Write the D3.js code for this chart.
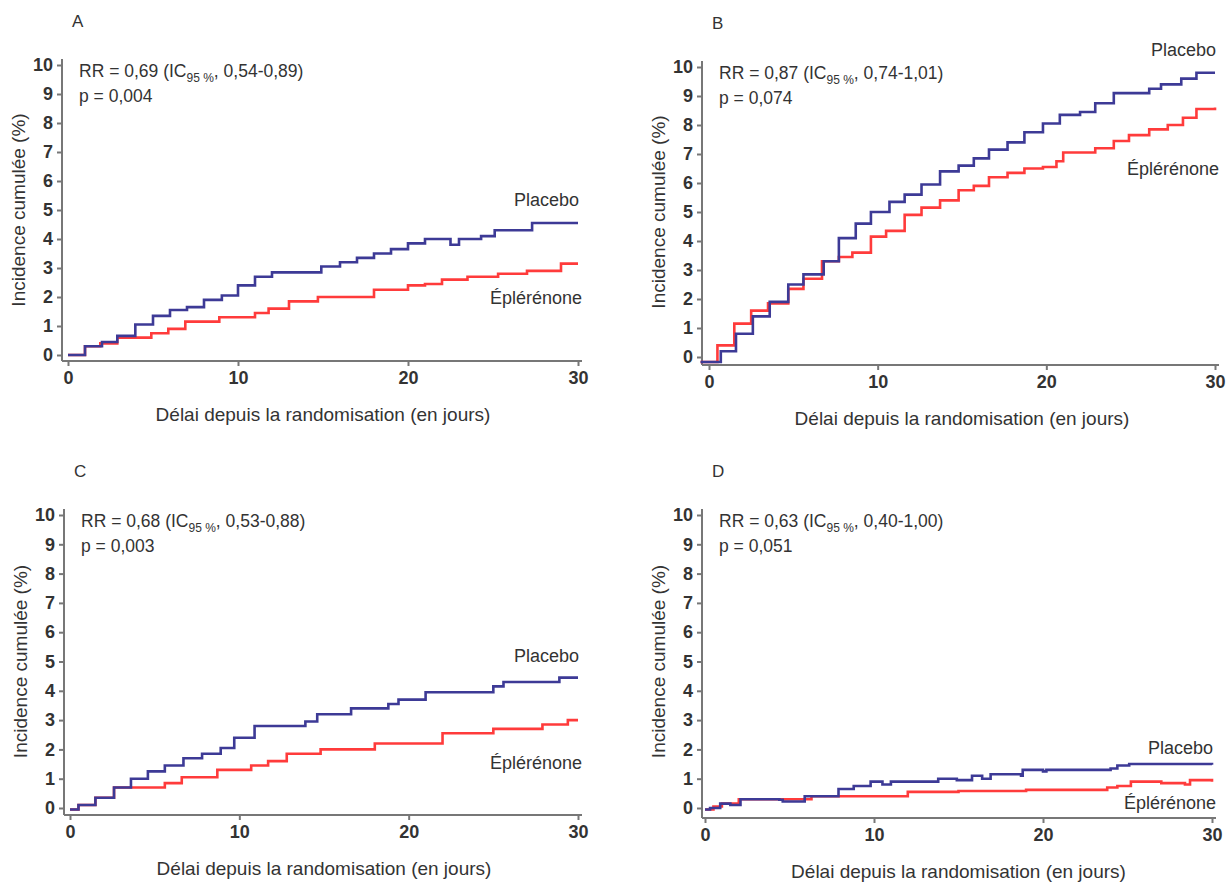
<!DOCTYPE html>
<meta charset="utf-8">
<script src="https://d3js.org/d3.v7.min.js"></script>
<style>
  body { margin: 0; background: #fff; }
  text { font-family: "Liberation Sans Narrow", "Arial Narrow", "Liberation Sans", Arial, sans-serif; fill: #333; }
</style>
<div id="my_dataviz"></div>
<script>
// step curves, [day, cumulative incidence %]
var placeboA = [[0,0],[1,0.3],[2,0.45],[2.9,0.66],[3.96,1.05],[5,1.35],[6,1.55],[7,1.65],[8,1.9],[9.05,2.05],[10,2.4],[11,2.7],[12,2.85],[14.9,3.05],[16,3.2],[17,3.35],[18,3.5],[19,3.65],[20,3.85],[21,4.0],[22.5,3.8],[23,4.0],[24.3,4.1],[25.1,4.3],[27.3,4.55],[30,4.55]];
var eplerenoneA = [[0,0],[1,0.3],[1.9,0.4],[2.9,0.6],[4.9,0.75],[5.9,0.9],[6.9,1.15],[8.9,1.3],[11,1.45],[11.8,1.6],[13,1.85],[14.7,2.0],[18,2.25],[20,2.4],[21,2.45],[22,2.6],[23.5,2.7],[25.3,2.8],[27,2.9],[29,3.15],[30,3.15]];

var placeboB = [[-0.5,-0.17],[0.7,0.2],[1.6,0.8],[2.6,1.4],[3.6,1.9],[4.7,2.5],[5.6,2.85],[6.8,3.3],[7.7,4.1],[8.7,4.6],[9.6,5.0],[10.7,5.35],[11.6,5.6],[12.6,5.95],[13.7,6.4],[14.8,6.6],[15.7,6.85],[16.6,7.15],[17.7,7.4],[18.7,7.75],[19.8,8.05],[20.8,8.35],[22,8.45],[22.9,8.75],[24,9.1],[26.1,9.25],[26.8,9.4],[28,9.6],[28.9,9.8],[30,9.8]];
var eplerenoneB = [[-0.5,-0.17],[0.5,0.4],[1.5,1.15],[2.5,1.6],[3.5,1.85],[4.7,2.35],[5.6,2.7],[6.7,3.3],[7.7,3.45],[8.5,3.6],[9.6,4.15],[10.5,4.35],[11.6,4.9],[12.6,5.15],[13.7,5.4],[14.8,5.75],[15.7,5.9],[16.6,6.2],[17.7,6.35],[18.7,6.5],[19.8,6.55],[20.6,6.75],[21,7.05],[22.9,7.2],[24,7.45],[24.9,7.65],[26.1,7.85],[27.2,8.0],[28.1,8.25],[28.9,8.55],[30,8.6]];

var placeboC = [[0,-0.05],[0.5,0.1],[1.5,0.35],[2.6,0.7],[3.6,1.0],[4.6,1.25],[5.6,1.45],[6.7,1.7],[7.8,1.85],[8.9,2.05],[9.7,2.4],[10.9,2.8],[13.9,2.95],[14.6,3.2],[16.6,3.4],[18.8,3.55],[19.4,3.7],[21,3.95],[25,4.15],[25.6,4.3],[28.9,4.45],[30,4.45]];
var eplerenoneC = [[0,-0.05],[0.5,0.1],[1.5,0.35],[2.6,0.7],[5.6,0.85],[6.6,1.05],[8.7,1.3],[10.7,1.45],[11.7,1.6],[12.8,1.85],[14.8,2.0],[18,2.2],[22,2.55],[25,2.7],[27.9,2.85],[29.4,3.0],[30,3.0]];

var placeboD = [[0,-0.05],[0.3,0],[0.9,0.15],[1.5,0.1],[2.1,0.3],[4.4,0.28],[4.6,0.22],[5.9,0.4],[7.9,0.65],[8.8,0.75],[9.8,0.9],[10.5,0.8],[11,0.9],[13.8,1.0],[14.9,0.95],[15.8,1.1],[16.4,1.0],[16.9,1.15],[18.7,1.1],[18.8,1.3],[20,1.25],[20.2,1.3],[24,1.35],[24.4,1.45],[25.1,1.5],[30,1.48]];
var eplerenoneD = [[0,-0.05],[0.5,0.05],[1,0.15],[2,0.3],[6.3,0.4],[12,0.55],[15,0.58],[19,0.62],[23.8,0.7],[24.4,0.75],[25.2,0.9],[27,0.85],[28.4,0.8],[28.7,0.95],[30,0.9]];

var panelLetters = ["A", "B", "C", "D"];
var rrValues = ["0,69", "0,87", "0,68", "0,63"];
var ciValues = ["0,54-0,89", "0,74-1,01", "0,53-0,88", "0,40-1,00"];
var pValues = ["0,004", "0,074", "0,003", "0,051"];
var placeboSeries = [placeboA, placeboB, placeboC, placeboD];
var eplerenoneSeries = [eplerenoneA, eplerenoneB, eplerenoneC, eplerenoneD];
var xTicks = [0, 10, 20, 30];
var yTicks = [0, 1, 2, 3, 4, 5, 6, 7, 8, 9, 10];

// pixel layout of each panel
var layout = [
    {left: 68, right: 578, y0: 355, y10: 65, axisX: 62, axisY: 361, placeboLab: 5.35, eplLab: 1.97},
    {left: 709, right: 1215, y0: 357, y10: 67, axisX: 702, axisY: 365, placeboLab: 10.6, eplLab: 6.5},
    {left: 70, right: 578, y0: 808, y10: 515, axisX: 64, axisY: 815, placeboLab: 5.2, eplLab: 1.55},
    {left: 705, right: 1212, y0: 808, y10: 515, axisX: 702, axisY: 818, placeboLab: 2.05, eplLab: 0.17}
]

var blue = "#3d3a96"
var red = "#ff3b3b"

var svg = d3.select("#my_dataviz")
    .append("svg")
    .attr("width", 1229)
    .attr("height", 892)

layout.forEach(function(p, i) {
    var x = d3.scaleLinear().domain([0, 30]).range([p.left, p.right])
    var y = d3.scaleLinear().domain([0, 10]).range([p.y0, p.y10])
    var g = svg.append("g")

    // y axis
    var ya = g.append("g")
        .attr("transform", "translate(" + p.axisX + ",0)")
        .call(d3.axisLeft(y).tickValues(yTicks).tickSize(5).tickPadding(4).tickSizeOuter(0))
    ya.select(".domain").attr("d", "M0," + p.axisY + "V" + (y(10) - 6))
    ya.selectAll("line, .domain").attr("stroke", "#777").attr("stroke-width", 2)
    ya.selectAll("text").style("font-size", "18px").style("font-weight", "bold").attr("fill", "#444")

    // x axis
    var xa = g.append("g")
        .attr("transform", "translate(0," + p.axisY + ")")
        .call(d3.axisBottom(x).tickValues(xTicks).tickSize(5).tickPadding(5).tickSizeOuter(0))
    xa.select(".domain").attr("d", "M" + p.axisX + ",0H" + (x(30) + 4))
    xa.selectAll("line, .domain").attr("stroke", "#777").attr("stroke-width", 2)
    xa.selectAll("text").style("font-size", "18px").style("font-weight", "bold").attr("fill", "#444")

    var line = d3.line()
        .x(function(d) { return x(d[0]) })
        .y(function(d) { return y(d[1]) })
        .curve(d3.curveStepAfter)

    g.append("path").datum(eplerenoneSeries[i])
        .attr("d", line).attr("fill", "none").attr("stroke", red).attr("stroke-width", 2.6)
    g.append("path").datum(placeboSeries[i])
        .attr("d", line).attr("fill", "none").attr("stroke", blue).attr("stroke-width", 2.6)

    // panel letter
    g.append("text")
        .attr("x", p.axisX + 10).attr("y", p.y10 - 38)
        .style("font-size", "17px")
        .text(panelLetters[i])

    // RR and p
    var rr = g.append("text")
        .attr("x", p.axisX + 17).attr("y", p.y10 + 12)
        .style("font-size", "17.5px")
    rr.append("tspan").text("RR = " + rrValues[i] + " (IC")
    rr.append("tspan").attr("dy", 5).style("font-size", "12px").text("95 %")
    rr.append("tspan").attr("dy", -5).text(", " + ciValues[i] + ")")
    g.append("text")
        .attr("x", p.axisX + 17).attr("y", p.y10 + 37)
        .style("font-size", "17.5px")
        .text("p = " + pValues[i])

    // series labels
    g.append("text")
        .attr("x", x(30) + 1).attr("y", y(p.placeboLab) + 6)
        .attr("text-anchor", "end")
        .style("font-size", "18px")
        .text("Placebo")
    g.append("text")
        .attr("x", x(30) + 4).attr("y", y(p.eplLab) + 6)
        .attr("text-anchor", "end")
        .style("font-size", "18px")
        .text("Éplérénone")

    // axis titles
    g.append("text")
        .attr("x", (x(0) + x(30)) / 2).attr("y", p.axisY + 60)
        .attr("text-anchor", "middle")
        .style("font-size", "19px")
        .text("Délai depuis la randomisation (en jours)")
    g.append("text")
        .attr("transform", "translate(" + (p.axisX - 37) + "," + y(5) + ") rotate(-90)")
        .attr("text-anchor", "middle")
        .style("font-size", "19px")
        .text("Incidence cumulée (%)")
})
</script>
